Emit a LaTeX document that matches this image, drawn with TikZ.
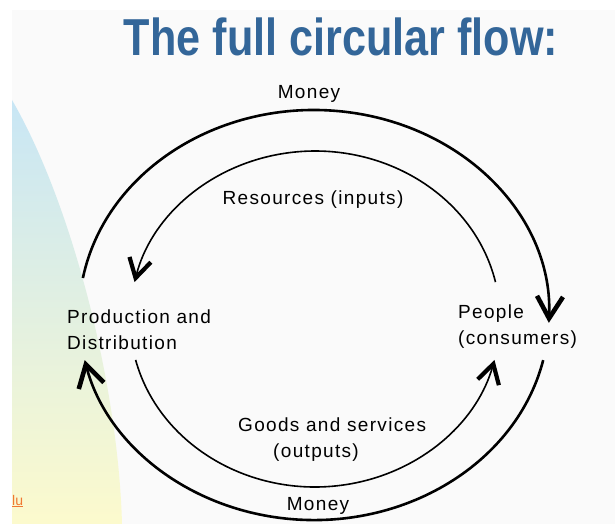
\documentclass[tikz,border=0pt]{standalone}
\usepackage{fontspec}
\setmainfont{Liberation Sans}
\newfontfamily\titlefont[FakeStretch=0.83]{Liberation Sans}
\newfontfamily\labelfont[LetterSpace=7]{Liberation Sans}
\usetikzlibrary{arrows.meta}

\definecolor{titleblue}{RGB}{51,102,153}
\definecolor{slidebg}{RGB}{250,250,250}
\definecolor{fadeblue}{RGB}{200,230,245}
\definecolor{fadegreen}{RGB}{230,243,215}
\definecolor{fadeyellow}{RGB}{252,250,205}
\definecolor{linkorange}{RGB}{240,120,50}

\tikzset{
    flowlabel/.style={font=\labelfont\fontsize{19}{26}\selectfont, inner sep=0pt},
    outerflow/.style={line width=2.6pt, -{Straight Barb[length=22pt,width=26pt,line width=4.6pt]}},
    innerflow/.style={line width=1.6pt, -{Straight Barb[length=19pt,width=22pt,line width=4.2pt]}},
}

\begin{document}
\begin{tikzpicture}[x=1pt,y=1pt]
    \useasboundingbox (0,0) rectangle (615,-524);

    % Slide background
    \fill[white] (0,0) rectangle (615,-524);
    \fill[slidebg] (12,-10) rectangle (615,-524);
    \shade[top color=fadeblue, middle color=fadegreen, bottom color=fadeyellow]
        (12,-100) .. controls (70,-200) and (118,-380) .. (122,-524) -- (12,-524) -- cycle;
    \node[font=\fontsize{14}{16}\selectfont, text=linkorange, anchor=base west, inner sep=0pt] (link) at (12,-505) {\underline{lu}};

    % Title
    \node[font=\titlefont\bfseries\fontsize{52}{60}\selectfont, text=titleblue, anchor=base, inner sep=0pt] (title) at (341,-56) {The full circular flow:};

    % Sectors (base = last line)
    \node[flowlabel, anchor=base west, align=left] (prod) at (67,-349) {Production and\\Distribution};
    \node[flowlabel, anchor=base west, align=left] (people) at (458,-344) {People\\(consumers)};

    % Flow labels
    \node[flowlabel, anchor=base] (moneytop) at (309,-99) {Money};
    \node[flowlabel, anchor=base] (resources) at (313,-204) {Resources (inputs)};
    \node[flowlabel, anchor=base west, align=left] (goods) at (238,-457) {Goods and services\\\hspace*{35pt}(outputs)};
    \node[flowlabel, anchor=base] (moneybot) at (318,-510) {Money};

    % Outer money flow
    \coordinate (moneyW) at (82.9,-278);
    \coordinate (moneyE) at (543.2,-360.1);
    \draw[outerflow] (moneyW) arc[start angle=169.6, end angle=-2.2, x radius=235pt, y radius=205pt];
    \draw[outerflow] (moneyE) arc[start angle=-12.7, end angle=-167.3, x radius=235pt, y radius=205pt];

    % Inner resources and goods flow
    \coordinate (realE) at (495.5,-282.1);
    \coordinate (realW) at (135.6,-359.9);
    \draw[innerflow] (realE) arc[start angle=12.7, end angle=167.3, x radius=185pt, y radius=168pt];
    \draw[innerflow] (realW) arc[start angle=194.1, end angle=345.9, x radius=185pt, y radius=168pt];
\end{tikzpicture}
\end{document}
